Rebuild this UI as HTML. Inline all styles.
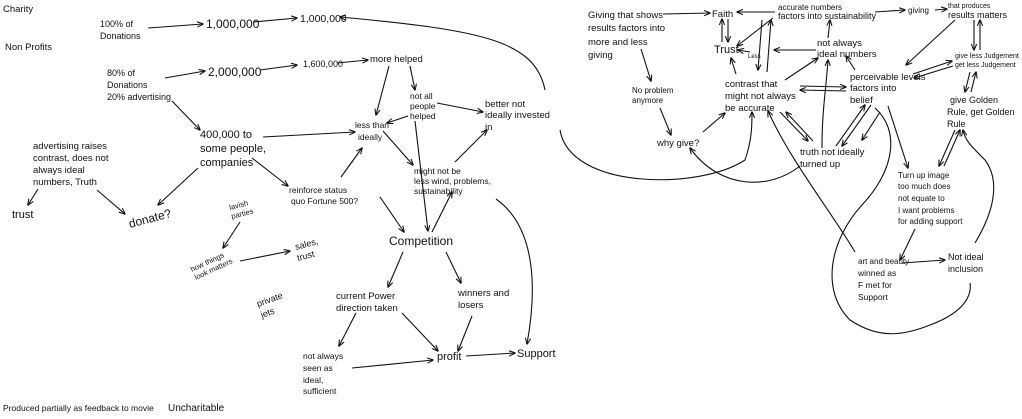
<!DOCTYPE html>
<html><head><meta charset="utf-8"><style>
html,body{margin:0;padding:0;background:#fff}
svg{display:block}
text{font-family:"Liberation Sans",sans-serif;fill:#111}
</style></head><body>
<svg width="1022" height="419" viewBox="0 0 1022 419" xmlns="http://www.w3.org/2000/svg">
<defs><marker id="a" viewBox="0 0 10 10" refX="9" refY="5" markerWidth="6" markerHeight="6" orient="auto-start-reverse"><path d="M0,1 L10,5 L0,9" fill="none" stroke="#111" stroke-width="1.6"/></marker></defs>
<g stroke="#111" stroke-width="1.1" fill="none" marker-end="url(#a)">
<line x1="148" y1="28" x2="203" y2="24"/>
<line x1="253" y1="22" x2="297" y2="18"/>
<path d="M545,90 C535,40 480,30 340,17"/>
<line x1="165" y1="78" x2="205" y2="71"/>
<line x1="260" y1="70" x2="297" y2="65"/>
<line x1="337" y1="63" x2="368" y2="60"/>
<line x1="172" y1="101" x2="200" y2="130"/>
<line x1="263" y1="137" x2="355" y2="132"/>
<line x1="389" y1="66" x2="376" y2="115"/>
<line x1="410" y1="66" x2="415" y2="90"/>
<line x1="437" y1="103" x2="483" y2="112"/>
<line x1="408" y1="116" x2="387" y2="123"/>
<line x1="383" y1="131" x2="413" y2="165"/>
<line x1="455" y1="162" x2="487" y2="130"/>
<line x1="252" y1="158" x2="288" y2="186"/>
<line x1="341" y1="177" x2="362" y2="148"/>
<line x1="198" y1="168" x2="158" y2="205"/>
<line x1="38" y1="189" x2="28" y2="205"/>
<line x1="97" y1="190" x2="125" y2="214"/>
<line x1="240" y1="222" x2="223" y2="248"/>
<line x1="240" y1="261" x2="290" y2="251"/>
<line x1="380" y1="197" x2="404" y2="232"/>
<line x1="415" y1="121" x2="428" y2="231"/>
<line x1="432" y1="232" x2="452" y2="192"/>
<line x1="403" y1="252" x2="388" y2="287"/>
<line x1="446" y1="252" x2="461" y2="283"/>
<line x1="356" y1="313" x2="339" y2="346"/>
<line x1="402" y1="313" x2="438" y2="351"/>
<line x1="472" y1="316" x2="458" y2="351"/>
<line x1="352" y1="368" x2="433" y2="360"/>
<line x1="466" y1="356" x2="515" y2="353"/>
<path d="M496,199 C540,230 535,300 527,344"/>
<line x1="663" y1="14" x2="710" y2="13"/>
<line x1="641" y1="49" x2="651" y2="81"/>
<line x1="660" y1="108" x2="671" y2="135"/>
<line x1="703" y1="132" x2="725" y2="113"/>
<line x1="722" y1="42" x2="722" y2="19"/>
<line x1="728" y1="19" x2="728" y2="42"/>
<line x1="775" y1="12" x2="737" y2="12"/>
<line x1="773" y1="18" x2="737" y2="46"/>
<line x1="762" y1="20" x2="758" y2="70"/>
<line x1="767" y1="72" x2="771" y2="20"/>
<line x1="816" y1="50" x2="774" y2="50"/>
<line x1="750" y1="52" x2="738" y2="50"/>
<line x1="828" y1="38" x2="830" y2="20"/>
<line x1="785" y1="80" x2="818" y2="58"/>
<line x1="736" y1="74" x2="731" y2="58"/>
<line x1="855" y1="70" x2="846" y2="56"/>
<line x1="800" y1="86" x2="846" y2="87"/>
<line x1="846" y1="91" x2="800" y2="90"/>
<line x1="780" y1="112" x2="808" y2="141"/>
<line x1="813" y1="141" x2="786" y2="112"/>
<path d="M822,148 C822,110 826,90 828,60"/>
<line x1="836" y1="146" x2="865" y2="105"/>
<line x1="871" y1="105" x2="842" y2="146"/>
<line x1="880" y1="112" x2="862" y2="140"/>
<line x1="875" y1="12" x2="905" y2="10"/>
<line x1="935" y1="10" x2="947" y2="9"/>
<line x1="955" y1="20" x2="906" y2="65"/>
<line x1="974" y1="20" x2="974" y2="50"/>
<line x1="980" y1="50" x2="980" y2="20"/>
<line x1="913" y1="74" x2="952" y2="61"/>
<line x1="953" y1="66" x2="914" y2="78"/>
<line x1="970" y1="72" x2="965" y2="92"/>
<line x1="971" y1="92" x2="976" y2="72"/>
<line x1="955" y1="130" x2="939" y2="166"/>
<line x1="944" y1="166" x2="960" y2="130"/>
<line x1="888" y1="106" x2="908" y2="168"/>
<line x1="915" y1="229" x2="900" y2="260"/>
<line x1="902" y1="263" x2="945" y2="260"/>
<path d="M855,252 C830,210 790,160 768,111"/>
<path d="M560,130 C570,190 700,190 745,160 C752,140 752,125 752,112"/>
<path d="M800,166 C770,190 720,190 690,148"/>
<path d="M975,243 C995,210 1000,180 985,160 C970,145 965,140 963,130"/>
</g>
<g stroke="#111" stroke-width="1.1" fill="none">
<path d="M875,108 C900,130 895,170 862,205 C830,240 820,290 850,320 C880,340 905,335 930,325 C965,312 972,295 970,283"/>
</g>
<g font-size="9.5">
<text x="3" y="12">Charity</text>
<text x="5" y="50">Non Profits</text>
<text x="100" y="27" font-size="9">100% of</text><text x="100" y="39" font-size="9">Donations</text>
<text x="206" y="28" font-size="12">1,000,000</text>
<text x="300" y="22" font-size="10.5">1,000,000</text>
<text x="107" y="76" font-size="9">80% of</text><text x="107" y="88" font-size="9">Donations</text><text x="107" y="100" font-size="9">20% advertising</text>
<text x="208" y="76" font-size="12">2,000,000</text>
<text x="303" y="67" font-size="9">1,600,000</text>
<text x="370" y="62">more helped</text>
<text x="200" y="138" font-size="11">400,000 to</text><text x="200" y="152" font-size="11">some people,</text><text x="200" y="166" font-size="11">companies</text>
<text x="355" y="128" font-size="8.5">less than</text><text x="358" y="140" font-size="8.5">ideally</text>
<text x="410" y="99" font-size="8.5">not all</text><text x="410" y="109" font-size="8.5">people</text><text x="410" y="119" font-size="8.5">helped</text>
<text x="485" y="107">better not</text><text x="485" y="118">ideally invested</text><text x="485" y="130">in</text>
<text x="414" y="174" font-size="8.5">might not be</text><text x="414" y="184" font-size="8.5">less wind, problems,</text><text x="414" y="194" font-size="8.5">sustainability</text>
<text x="289" y="193" font-size="8.5">reinforce status</text><text x="291" y="204" font-size="8.5">quo Fortune 500?</text>
<text x="33" y="149">advertising raises</text><text x="33" y="161">contrast, does not</text><text x="33" y="173">always ideal</text><text x="33" y="185">numbers, Truth</text>
<text x="12" y="218" font-size="11">trust</text>
<text x="130" y="228" font-size="12" transform="rotate(-15 130 228)">donate?</text>
<text x="230" y="210" font-size="7.5" transform="rotate(-15 230 210)">lavish</text><text x="232" y="219" font-size="7.5" transform="rotate(-15 232 219)">parties</text>
<text x="192" y="272" font-size="7.5" transform="rotate(-25 192 272)">how things</text><text x="196" y="280" font-size="7.5" transform="rotate(-25 196 280)">look matters</text>
<text x="296" y="250" font-size="9" transform="rotate(-15 296 250)">sales,</text><text x="298" y="261" font-size="9" transform="rotate(-15 298 261)">trust</text>
<text x="389" y="245" font-size="12">Competition</text>
<text x="258" y="307" font-size="9" transform="rotate(-20 258 307)">private</text><text x="262" y="318" font-size="9" transform="rotate(-20 262 318)">jets</text>
<text x="336" y="299">current Power</text><text x="336" y="311">direction taken</text>
<text x="458" y="296">winners and</text><text x="458" y="308">losers</text>
<text x="303" y="359" font-size="8.5">not always</text><text x="303" y="371" font-size="8.5">seen as</text><text x="303" y="383" font-size="8.5">ideal,</text><text x="303" y="394" font-size="8.5">sufficient</text>
<text x="437" y="360" font-size="11">profit</text>
<text x="517" y="357" font-size="11">Support</text>
<text x="3" y="411" font-size="8.5">Produced partially as feedback to movie</text><text x="168" y="411" font-size="10">Uncharitable</text>
<text x="588" y="18">Giving that shows</text><text x="588" y="31">results factors into</text><text x="588" y="45">more and less</text><text x="588" y="58">giving</text>
<text x="712" y="17">Faith</text>
<text x="632" y="93" font-size="8">No problem</text><text x="632" y="103" font-size="8">anymore</text>
<text x="657" y="146">why give?</text>
<text x="725" y="87">contrast that</text><text x="725" y="99">might not always</text><text x="725" y="111">be accurate</text>
<text x="714" y="53" font-size="11">Trust</text>
<text x="778" y="10" font-size="8">accurate numbers</text><text x="778" y="19" font-size="9">factors into sustainability</text>
<text x="817" y="46">not always</text><text x="817" y="57">ideal numbers</text>
<text x="748" y="58" font-size="6">Less</text>
<text x="850" y="80">perceivable levels</text><text x="850" y="91">factors into</text><text x="850" y="103">belief</text>
<text x="800" y="155">truth not ideally</text><text x="800" y="167">turned up</text>
<text x="908" y="13" font-size="8">giving</text>
<text x="948" y="8" font-size="7">that produces</text><text x="948" y="18" font-size="9">results matters</text>
<text x="955" y="58" font-size="7">give less Judgement</text><text x="955" y="67" font-size="7">get less Judgement</text>
<text x="950" y="103" font-size="9">give Golden</text><text x="947" y="115" font-size="9">Rule, get Golden</text><text x="947" y="127" font-size="9">Rule</text>
<text x="898" y="178" font-size="8">Turn up image</text><text x="898" y="189" font-size="8">too much does</text><text x="898" y="201" font-size="8">not equate to</text><text x="898" y="213" font-size="8">I want problems</text><text x="898" y="224" font-size="8">for adding support</text>
<text x="858" y="264" font-size="8">art and beauty</text><text x="858" y="276" font-size="8.5">winned as</text><text x="858" y="288" font-size="8.5">F met for</text><text x="858" y="300" font-size="8.5">Support</text>
<text x="948" y="260" font-size="9">Not ideal</text><text x="948" y="272" font-size="9">inclusion</text>
</g>
</svg>
</body></html>
